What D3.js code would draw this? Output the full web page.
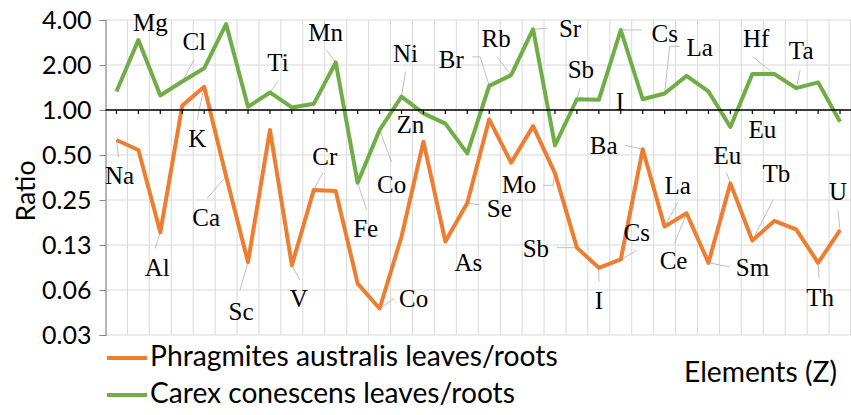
<!DOCTYPE html>
<html><head><meta charset="utf-8">
<script src="https://cdn.jsdelivr.net/npm/d3@7"></script>
<style>html,body{margin:0;padding:0;background:#fff;}svg{display:block;}</style>
</head><body>
<svg id="chart" width="851" height="415"></svg>
<script>
// ---- data ----
const elements = ["Na","Mg","Al","Cl","K","Ca","Sc","Ti","V","Cr","Mn","Fe","Co","Ni","Zn","As","Se","Br","Rb","Sr","Mo","Sb","I","Cs","Ba","La","Ce","Sm","Eu","Tb","Hf","Ta","Th","U"];
const phragmites = [0.63,0.54,0.152,1.07,1.43,0.36,0.096,0.735,0.0915,0.292,0.287,0.069,0.047,0.142,0.614,0.132,0.239,0.866,0.444,0.78,0.377,0.12,0.088,0.10,0.546,0.166,0.204,0.095,0.323,0.134,0.181,0.159,0.095,0.157];
const carex = [1.33,2.94,1.25,1.55,1.90,3.76,1.05,1.31,1.04,1.10,2.08,0.326,0.735,1.23,0.95,0.81,0.513,1.45,1.71,3.47,0.58,1.18,1.17,3.43,1.18,1.29,1.69,1.33,0.77,1.74,1.74,1.40,1.53,0.835];
const tickValues = [4,2,1,0.5,0.25,0.125,0.0625,0.03125];
const tickLabels = ["4.00","2.00","1.00","0.50","0.25","0.13","0.06","0.03"];
const seriesNames = ["Phragmites australis leaves/roots","Carex conescens leaves/roots"];
const phragLabeled = ["Na","Al","K","Ca","Sc","V","Cr","Co","As","Se","Mo","Sb","I","Cs","Ba","La","Ce","Sm","Eu","Tb","Th","U"];
const carexLabeled = ["Mg","Cl","Ti","Mn","Fe","Co","Ni","Zn","Br","Rb","Sr","Sb","I","Cs","La","Eu","Hf","Ta"];

// ---- label layout (offsets from the data point: label [dx,dy], leader points) ----
const phragLayout = {
  Na:[3,44,[[2,17]]], Al:[-3,44,[[-5,16]]], K:[-7,60,[[-7,33]]], Ca:[-20,50,[[-19,22]]],
  Sc:[-7,58,[[-8,28]]], V:[7,42,[[8,15]]], Cr:[11,-25,[[9,-17]]], Co:[34,-2,[[15,-10]]],
  As:[23,30,null], Se:[32,14,[[13,2]]], Mo:[-36,20,[[-12,12],[-2,12]]], Sb:[-41,9,[[-20,0]]],
  I:[0,41,[[0,14]]], Cs:[16,-18,[[16,-9]]], Ba:[-39,5,[[-18,-4]]], La:[13,-33,[[13,-24]]],
  Ce:[-13,56,[[-12,30]]], Sm:[44,13,[[21,4]]], Eu:[-3,-19,[[-4,-11]]], Tb:[24,-58,[[21,-41]]],
  Th:[2,43,[[1,15]]], U:[-2,-30,[[-2,-20]]]
};
const carexLayout = {
  Mg:[12,-9,null], Cl:[12,-32,[[12,-22]]], Ti:[8,-21,[[8,-11]]], Mn:[-10,-21,[[-9,-12]]],
  Fe:[8,54,[[9,27]]], Co:[12,63,[[12,32]]], Ni:[4,-35,[[4,-25]]], Zn:[-13,20,null],
  Br:[-38,-18,[[-17,-29],[-9,-29]]], Rb:[-15,-28,[[-14,-18]]], Sr:[37,8,[[14,-1]]],
  Sb:[4,-21,[[3,-11]]], I:[21,10,null], Cs:[44,12,[[21,0]]], La:[35,-37,[[15,-47],[5,-47]]],
  Eu:[32,11,null], Hf:[-18,-27,[[-21,-17]]], Ta:[5,-29,[[4,-18]]]
};

const ORANGE = "#ED7D31", GREEN = "#70AD47";
const svg = d3.select("#chart");
const L = 105.5, R = 851, T = 20, B = 335;

const x = d3.scaleBand().domain(elements).range([L, R]).padding(0);
const cx = e => x(e) + x.bandwidth()/2;
const y = d3.scaleLog().base(2).domain([0.03125, 4]).range([B, T]);

// gridlines
const grid = svg.append("g");
grid.selectAll("line.h").data(tickValues).join("line")
  .attr("x1", L).attr("x2", R).attr("y1", d=>y(d)).attr("y2", d=>y(d))
  .attr("stroke", "#d9d9d9").attr("stroke-width", 1);
grid.selectAll("line.v").data(elements.slice(1).concat(["__end"])).join("line")
  .attr("x1", d=> d==="__end" ? R-0.5 : x(d)).attr("x2", d=> d==="__end" ? R-0.5 : x(d))
  .attr("y1", T).attr("y2", B)
  .attr("stroke", "#d9d9d9").attr("stroke-width", 1);

// leader lines
function leaders(data, labeled, layout) {
  const g = svg.append("g");
  labeled.forEach(name => {
    const i = elements.indexOf(name);
    const lay = layout[name];
    if (!lay || !lay[2]) return;
    const px = cx(name), py = y(data[i]);
    const pts = lay[2].map(p => [px + p[0], py + p[1]]).concat([[px, py]]);
    g.append("path").attr("d", d3.line()(pts)).attr("fill","none")
      .attr("stroke", "#bfbfbf").attr("stroke-width", 1);
  });
}
leaders(phragmites, phragLabeled, phragLayout);
leaders(carex, carexLabeled, carexLayout);

// series lines
const line = d3.line().x((d,i)=>cx(elements[i])).y(d=>y(d));
svg.append("path").datum(phragmites).attr("d", line).attr("fill","none")
  .attr("stroke", ORANGE).attr("stroke-width", 4).attr("stroke-linejoin","round");
svg.append("path").datum(carex).attr("d", line).attr("fill","none")
  .attr("stroke", GREEN).attr("stroke-width", 4).attr("stroke-linejoin","round");

// y axis
const yAxis = d3.axisLeft(y).tickValues(tickValues).tickFormat((d,i)=>tickLabels[i]).tickSize(6).tickPadding(8);
const ya = svg.append("g").attr("transform", `translate(${L},0)`).call(yAxis);
ya.select(".domain").attr("stroke", "#868686").attr("stroke-width", 1.2);
ya.selectAll(".tick line").attr("stroke", "#868686");
ya.selectAll(".tick text").attr("font-family", "Lato, 'Open Sans', sans-serif").attr("font-size", 25).attr("fill", "#000");

// x axis at ratio 1
const xAxis = d3.axisBottom(x).tickSize(4).tickFormat("");
const xa = svg.append("g").attr("transform", `translate(0,${y(1)})`).call(xAxis);
xa.select(".domain").attr("stroke", "#000").attr("stroke-width", 1.5).attr("d", `M${L},0H${R}`);
xa.selectAll(".tick line").attr("stroke", "#000").attr("stroke-width", 1.2);

// data labels
function labels(data, labeled, layout) {
  const g = svg.append("g");
  labeled.forEach(name => {
    const i = elements.indexOf(name);
    const lay = layout[name];
    const px = cx(name), py = y(data[i]);
    g.append("text").attr("x", px + lay[0]).attr("y", py + lay[1])
      .attr("text-anchor","middle").attr("font-family","'Liberation Serif', 'Times New Roman', serif")
      .attr("font-size", 25).attr("fill","#000").text(name);
  });
}
labels(phragmites, phragLabeled, phragLayout);
labels(carex, carexLabeled, carexLayout);

// fit text width helper
function fit(sel, target) {
  const w = sel.node().getComputedTextLength();
  const fs = parseFloat(sel.attr("font-size"));
  sel.attr("font-size", fs * target / w);
}
const SANS = "Lato, 'Open Sans', sans-serif";

// axis titles
const yt = svg.append("text").attr("transform", "translate(35,191) rotate(-90)")
  .attr("text-anchor","middle").attr("font-family", SANS).attr("font-size", 24).text("Ratio");
fit(yt, 61);
const xt = svg.append("text").attr("x", 684).attr("y", 382)
  .attr("font-family", SANS).attr("font-size", 22).text("Elements (Z)");
fit(xt, 153);

// legend
const legY = [358, 395];
const legW = [408, 365];
[ORANGE, GREEN].forEach((c, k) => {
  svg.append("line").attr("x1", 107).attr("x2", 147).attr("y1", legY[k]).attr("y2", legY[k])
    .attr("stroke", c).attr("stroke-width", 4);
  const t = svg.append("text").attr("x", 150).attr("y", legY[k] + 8)
    .attr("font-family", SANS).attr("font-size", 24).text(seriesNames[k]);
  fit(t, legW[k]);
});
</script>
</body></html>
